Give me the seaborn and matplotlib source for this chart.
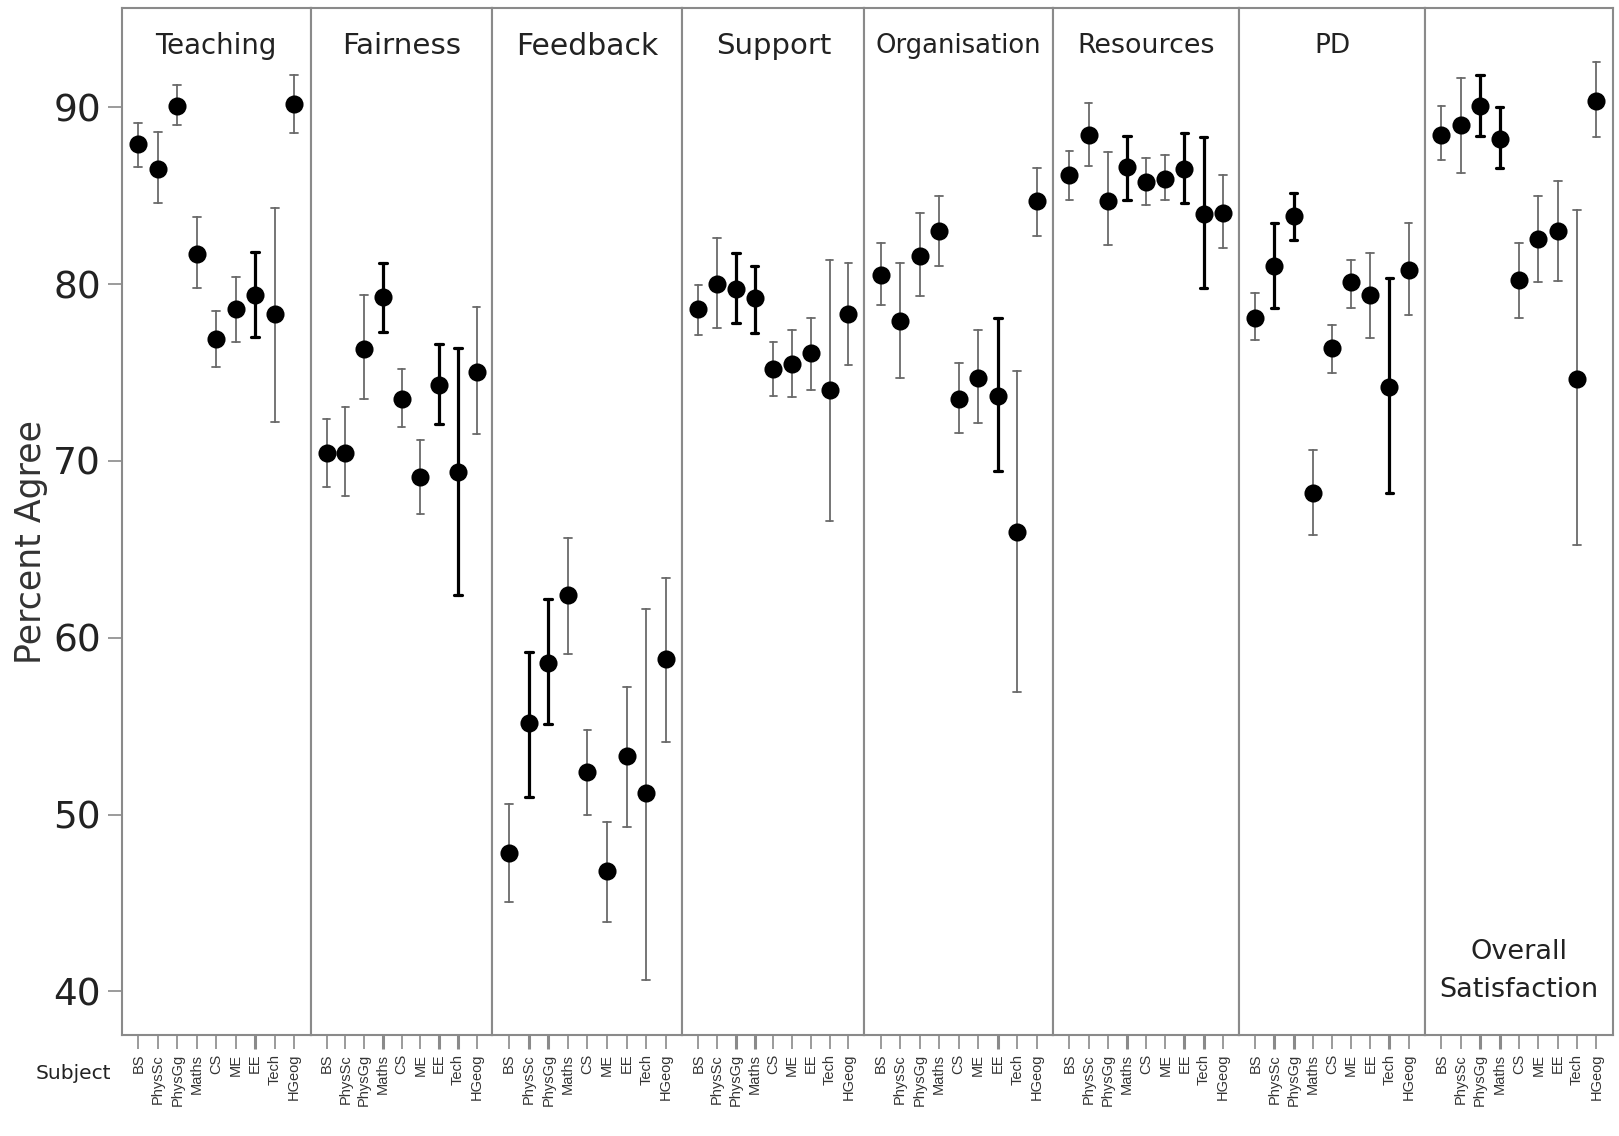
import matplotlib
matplotlib.use("Agg")
import matplotlib.pyplot as plt
import seaborn as sns
import pandas as pd

# ---------------- data ----------------
subjects = ["BS", "PhysSc", "PhysGg", "Maths", "CS", "ME", "EE", "Tech", "HGeog"]
aspects = ["Teaching", "Fairness", "Feedback", "Support", "Organisation",
           "Resources", "PD", "Overall Satisfaction"]

teaching_mean = [87.9, 86.5, 90.1, 81.7, 76.9, 78.6, 79.4, 78.3, 90.2]
teaching_lo = [86.6, 84.6, 89.0, 79.8, 75.3, 76.7, 77.0, 72.2, 88.55]
teaching_hi = [89.1, 88.6, 91.25, 83.8, 78.5, 80.4, 81.8, 84.3, 91.8]

fairness_mean = [70.45, 70.45, 76.35, 79.3, 73.5, 69.1, 74.3, 69.4, 75.05]
fairness_lo = [68.55, 68.0, 73.5, 77.3, 71.9, 67.0, 72.1, 62.4, 71.5]
fairness_hi = [72.4, 73.05, 79.4, 81.2, 75.2, 71.2, 76.6, 76.4, 78.7]

feedback_mean = [47.8, 55.2, 58.6, 62.4, 52.4, 46.8, 53.3, 51.2, 58.8]
feedback_lo = [45.05, 51.0, 55.1, 59.1, 50.0, 43.9, 49.3, 40.65, 54.1]
feedback_hi = [50.6, 59.2, 62.2, 65.65, 54.8, 49.6, 57.2, 61.6, 63.4]

support_mean = [78.6, 80.0, 79.75, 79.2, 75.2, 75.5, 76.1, 74.0, 78.3]
support_lo = [77.1, 77.5, 77.8, 77.25, 73.7, 73.6, 74.0, 66.6, 75.4]
support_hi = [79.95, 82.6, 81.75, 81.05, 76.7, 77.4, 78.1, 81.35, 81.2]

organisation_mean = [80.5, 77.9, 81.6, 83.0, 73.5, 74.7, 73.7, 66.0, 84.7]
organisation_lo = [78.8, 74.7, 79.35, 81.05, 71.6, 72.15, 69.45, 56.95, 82.75]
organisation_hi = [82.3, 81.2, 84.05, 85.0, 75.55, 77.4, 78.1, 75.1, 86.55]

resources_mean = [86.15, 88.45, 84.7, 86.6, 85.8, 85.95, 86.5, 83.95, 84.05]
resources_lo = [84.75, 86.7, 82.2, 84.75, 84.45, 84.75, 84.6, 79.8, 82.05]
resources_hi = [87.55, 90.25, 87.45, 88.4, 87.15, 87.3, 88.55, 88.3, 86.15]

pd_mean = [78.1, 81.0, 83.85, 68.2, 76.4, 80.1, 79.4, 74.2, 80.8]
pd_lo = [76.85, 78.65, 82.5, 65.8, 75.0, 78.65, 76.95, 68.2, 78.25]
pd_hi = [79.5, 83.45, 85.15, 70.6, 77.7, 81.35, 81.75, 80.35, 83.45]

overall_mean = [88.45, 89.0, 90.1, 88.2, 80.25, 82.55, 83.0, 74.65, 90.35]
overall_lo = [87.0, 86.3, 88.35, 86.55, 78.1, 80.1, 80.2, 65.25, 88.3]
overall_hi = [90.1, 91.65, 91.8, 90.0, 82.35, 85.0, 85.85, 84.2, 92.55]

y_ticks = [40, 50, 60, 70, 80, 90]

# ---------------- styling (kept separate from data) ----------------
bold_bars = {
    "Teaching": ["EE"],
    "Fairness": ["Maths", "EE", "Tech"],
    "Feedback": ["PhysSc", "PhysGg"],
    "Support": ["PhysGg", "Maths"],
    "Organisation": ["EE"],
    "Resources": ["Maths", "EE", "Tech"],
    "PD": ["PhysSc", "PhysGg", "Tech"],
    "Overall Satisfaction": ["PhysGg", "Maths"],
}
title_size = {"Teaching": 19.8, "Fairness": 21.2, "Feedback": 21.5, "Support": 21,
              "Organisation": 18.6, "Resources": 19.4, "PD": 19,
              "Overall Satisfaction": 19.5}
panel_widths = [183, 176, 184, 176, 183, 180, 180, 182]

series = {
    "Teaching": (teaching_mean, teaching_lo, teaching_hi),
    "Fairness": (fairness_mean, fairness_lo, fairness_hi),
    "Feedback": (feedback_mean, feedback_lo, feedback_hi),
    "Support": (support_mean, support_lo, support_hi),
    "Organisation": (organisation_mean, organisation_lo, organisation_hi),
    "Resources": (resources_mean, resources_lo, resources_hi),
    "PD": (pd_mean, pd_lo, pd_hi),
    "Overall Satisfaction": (overall_mean, overall_lo, overall_hi),
}

# long table: each subject contributes lower / mean / upper so that
# median -> mean and 100% interval -> (lower, upper)
rows = []
for a in aspects:
    m, lo, hi = series[a]
    for s, mv, lv, hv in zip(subjects, m, lo, hi):
        for v in (lv, mv, hv):
            rows.append({"Aspect": a, "Subject": s, "Percent": v,
                         "Bold": s in bold_bars[a]})
df = pd.DataFrame(rows)

sns.set_style("white")
plt.rcParams["font.family"] = ["DejaVu Sans"]

SPINE = "#8a8a8a"
fig, axes = plt.subplots(1, len(aspects), sharey=True, figsize=(16.19, 11.36), dpi=100,
                         gridspec_kw={"width_ratios": panel_widths})
fig.subplots_adjust(left=0.0752, right=0.9962, top=0.9927, bottom=0.0893, wspace=0)

for ax, a in zip(axes, aspects):
    sub = df[df["Aspect"] == a]
    for bold, part in sub.groupby("Bold"):
        sns.pointplot(data=part, x="Subject", y="Percent", order=subjects,
                      estimator="median", errorbar=("pi", 100), capsize=0.4,
                      linestyle="none", marker="o", markersize=11,
                      color="black", ax=ax, zorder=4,
                      err_kws={"color": "black" if bold else "#6a6a6a",
                               "linewidth": 2.3 if bold else 1.3, "zorder": 3})
    ax.set_xlim(-0.85, 8.85)
    ax.set_ylim(37.56, 95.6)
    ax.set_xlabel("")
    ax.set_ylabel("")
    for sp in ax.spines.values():
        sp.set_visible(True)
        sp.set_color(SPINE)
        sp.set_linewidth(1.5)
    ax.tick_params(axis="x", bottom=True, length=10, width=1.2, color=SPINE,
                   direction="out", labelrotation=90, labelsize=10.5,
                   labelcolor="#333333", pad=4)
    for lab in ax.get_xticklabels():
        lab.set_family(["Liberation Sans", "DejaVu Sans"])
        lab.set_verticalalignment("top")
    for s, t in zip(subjects, ax.xaxis.get_major_ticks()):
        if s in bold_bars[a]:
            t.tick1line.set_markeredgewidth(2.2)
            t.tick1line.set_color("black")
    if a == "Overall Satisfaction":
        ax.text(4, 41.15, "Overall\nSatisfaction", ha="center", va="center",
                fontsize=title_size[a], color="#222222", linespacing=1.6)
    else:
        ax.text(4, 93.45, a, ha="center", va="center",
                fontsize=title_size[a], color="#222222")

axes[0].set_yticks(y_ticks)
axes[0].tick_params(axis="y", left=True, length=10, width=1.2, color=SPINE,
                    direction="out", labelsize=27, labelcolor="#222222", pad=5)
for ax in axes[1:]:
    ax.tick_params(axis="y", left=False, labelleft=False)

fig.text(0.019, 0.523, "Percent Agree", rotation=90, ha="center", va="center",
         fontsize=25, color="#333333")
fig.text(0.0455, 0.0546, "Subject", ha="center", va="center",
         fontsize=14.5, color="#222222")

fig.savefig("out.png", dpi=100)
